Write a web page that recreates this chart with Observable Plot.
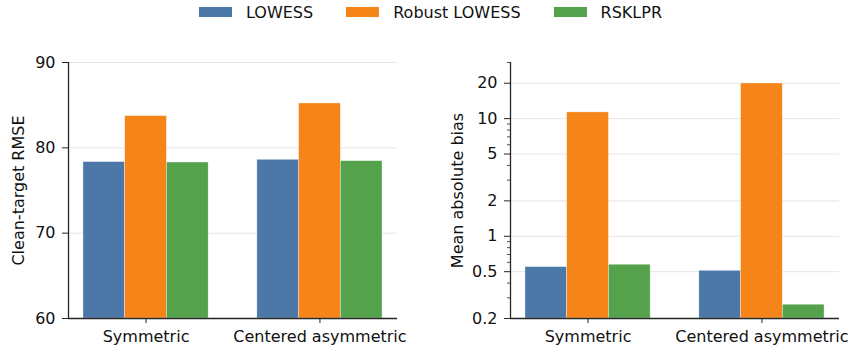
<!DOCTYPE html>
<html>
<head>
<meta charset="utf-8">
<script src="https://cdn.jsdelivr.net/npm/d3@7"></script>
<script src="https://cdn.jsdelivr.net/npm/@observablehq/plot@0.6"></script>
<style>
  html, body { margin: 0; padding: 0; background: #fff; }
  #wrap { position: relative; width: 851px; height: 352px; font-family: "DejaVu Sans", sans-serif; color: #111; }
  #legend { position: absolute; left: 199px; top: 0; height: 24px; display: flex; align-items: center; font-size: 16px; }
  .item { display: flex; align-items: center; margin-right: 33px; }
  .sw { width: 33px; height: 10px; margin-right: 14px; }
  .panel { position: absolute; top: 0; }
</style>
</head>
<body>
<div id="wrap">
  <div id="legend"></div>
  <div id="left" class="panel" style="left:0px"></div>
  <div id="right" class="panel" style="left:420px"></div>
</div>
<script>
// ---- data ----
const categories = ["Symmetric", "Centered asymmetric"];
const methods = ["LOWESS", "Robust LOWESS", "RSKLPR"];
const colors = ["#4c78a8", "#f58518", "#54a24b"];
const rmseLOWESS = [78.33, 78.6];
const rmseRobust = [83.72, 85.2];
const rmseRSKLPR = [78.28, 78.44];
const biasLOWESS = [0.547, 0.509];
const biasRobust = [11.3, 19.9];
const biasRSKLPR = [0.573, 0.262];
const rmseTicks = [60, 70, 80, 90];
const biasTicks = [0.2, 0.5, 1, 2, 5, 10, 20];
const biasTickLabels = ["0.2", "0.5", "1", "2", "5", "10", "20"];
const biasMinorTicks = [0.3, 0.4, 0.6, 0.7, 0.8, 0.9, 3, 4, 6, 7, 8, 9, 30];
const yLabelLeft = "Clean-target RMSE";
const yLabelRight = "Mean absolute bias";

// ---- build tables ----
function rows(series) {
  const out = [];
  series.forEach((vals, mi) => vals.forEach((v, ci) => out.push({ci, mi, method: methods[mi], value: v})));
  return out;
}
const rmseRows = rows([rmseLOWESS, rmseRobust, rmseRSKLPR]);
const biasRows = rows([biasLOWESS, biasRobust, biasRSKLPR]);

// legend
const leg = document.getElementById("legend");
methods.forEach((m, i) => {
  const it = document.createElement("div"); it.className = "item";
  const sw = document.createElement("div"); sw.className = "sw"; sw.style.background = colors[i];
  const tx = document.createElement("span"); tx.textContent = m;
  it.appendChild(sw); it.appendChild(tx); leg.appendChild(it);
});

const W = 0.24;
const xDomain = [-0.446, 1.446];
const FS = 16;
const spine = "#262626";

function panel({data, yType, yDomain, yTicks, yLabels, minor, label, width, marginLeft, marginRight, labelDx}) {
  const base = yDomain[0];
  const innerW = width - marginLeft - marginRight;
  const tickRows = yTicks.map((v, i) => ({v, t: yLabels[i]}));
  const marks = [
    Plot.ruleY(yTicks, {stroke: "#e6e6e6", strokeWidth: 1}),
    Plot.rectY(data, {
      x1: d => d.ci + (d.mi - 1) * W - W / 2,
      x2: d => d.ci + (d.mi - 1) * W + W / 2,
      y1: () => base, y2: "value",
      fill: "method", stroke: "white", strokeWidth: 0.6, strokeOpacity: 0.6
    }),
    Plot.ruleY(yTicks, {insetLeft: -6, insetRight: innerW, stroke: spine, strokeWidth: 1}),
    Plot.text(tickRows, {y: "v", text: "t", frameAnchor: "left", dx: -13, textAnchor: "end", fontSize: FS, fill: "#111"}),
    Plot.axisX([0, 1], {tickSize: 5, tickPadding: 7, fontSize: FS, tickFormat: i => categories[i], label: null, stroke: spine, fill: "#111"}),
    Plot.ruleX([xDomain[0]], {stroke: spine, strokeWidth: 1.3}),
    Plot.ruleY([base], {stroke: spine, strokeWidth: 1.3}),
    Plot.text([label], {frameAnchor: "left", rotate: -90, textAnchor: "middle", dx: labelDx, fontSize: FS, fill: "#111"})
  ];
  if (minor) marks.push(Plot.ruleY(minor, {insetLeft: -3, insetRight: innerW, stroke: spine, strokeWidth: 0.8}));
  return Plot.plot({
    width, height: 352,
    marginLeft, marginRight, marginTop: 62, marginBottom: 34,
    style: {fontFamily: "DejaVu Sans, sans-serif", fontSize: FS + "px", background: "transparent", overflow: "visible"},
    x: {type: "linear", domain: xDomain, axis: null},
    y: {type: yType, domain: yDomain, axis: null},
    color: {domain: methods, range: colors},
    marks
  });
}

document.getElementById("left").appendChild(panel({
  data: rmseRows, yType: "linear", yDomain: [60, 90], yTicks: rmseTicks,
  yLabels: rmseTicks.map(String), minor: null, label: yLabelLeft,
  width: 420, marginLeft: 68, marginRight: 23, labelDx: -50
}));
document.getElementById("right").appendChild(panel({
  data: biasRows, yType: "log", yDomain: [0.2, 30], yTicks: biasTicks,
  yLabels: biasTickLabels, minor: biasMinorTicks, label: yLabelRight,
  width: 431, marginLeft: 90, marginRight: 12, labelDx: -53
}));
</script>
</body>
</html>
